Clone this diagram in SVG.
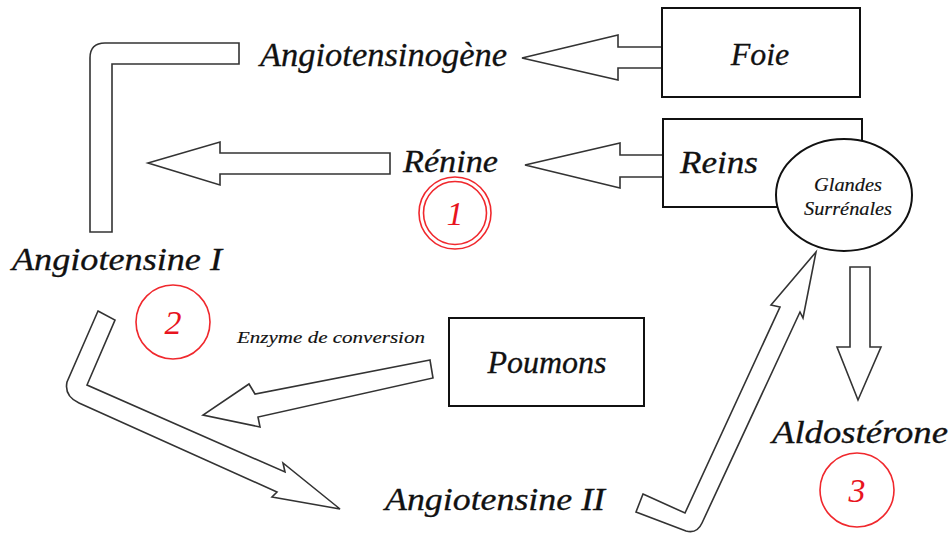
<svg xmlns="http://www.w3.org/2000/svg" width="952" height="533" viewBox="0 0 952 533">
<style>
.bg{fill:#fff}
.box{fill:#fff;stroke:#111;stroke-width:2}
.arr{fill:#fff;stroke:#333;stroke-width:1.6;stroke-linejoin:miter}
.lbl{font-family:"Liberation Serif","DejaVu Serif",serif;font-style:italic;fill:#111;stroke:#111;stroke-width:0.3}
.big{font-size:32px}
.num{font-family:"Liberation Serif","DejaVu Serif",serif;font-style:italic;font-size:34px;fill:#e8141e;text-anchor:middle}
.ring{fill:none;stroke:#f0282d;stroke-width:1.6}
</style>
<rect class="bg" x="0" y="0" width="952" height="533"/>
<g id="connectors">
<path class="arr" d="M239,43 L105,43 Q90,43 90,58 L90,232 L112,232 L112,64 L239,64 Z"/>
<path class="arr" d="M663,47 L618,47 L618,35 L522,58 L618,80 L618,68 L663,68"/>
<path class="arr" d="M390,153 L220,153 L220,142 L148,163 L220,185 L220,174 L390,174 Z"/>
<path class="arr" d="M663,155 L620,155 L620,143 L525,165 L620,188 L620,177 L663,177"/>
<path class="arr" d="M430,360 L255,394 L249,384 L203,415 L260,427 L258,417 L433,378 Z"/>
<path class="arr" d="M98,311 L115,320 L87,385 L285,472 L283,463 L340,509 L272,497 L277,492 L79,403 Q64,396 67,382 Z"/>
<path class="arr" d="M643,494 L685,513 L780,307 L771,305 L816,252 L803,318 L800,312 L702,523 Q697,534 686,531 L636,512 Z"/>
<path class="arr" d="M850,267 L870,267 L870,347 L881,347 L858,400 L837,347 L850,347 Z"/>
</g>
<g id="foie">
<rect class="box" x="662" y="8" width="198" height="89"/>
<text class="lbl big" x="760" y="65" text-anchor="middle">Foie</text>
</g>
<g id="angiotensinogene">
<text class="lbl" x="260" y="66" font-size="33" textLength="247" lengthAdjust="spacingAndGlyphs">Angiotensinogène</text>
</g>
<g id="reins">
<rect class="box" x="663" y="119" width="199" height="88"/>
<text class="lbl big" x="680" y="173" textLength="78" lengthAdjust="spacingAndGlyphs">Reins</text>
</g>
<g id="glandes">
<ellipse cx="844" cy="195" rx="68" ry="56" fill="#fff" stroke="#111" stroke-width="2"/>
<text class="lbl" x="814" y="191" font-size="19" textLength="68" lengthAdjust="spacingAndGlyphs" style="stroke-width:0.15">Glandes</text>
<text class="lbl" x="804" y="215" font-size="19" textLength="88" lengthAdjust="spacingAndGlyphs" style="stroke-width:0.15">Surrénales</text>
</g>
<g id="renine">
<text class="lbl big" x="403" y="172" textLength="95" lengthAdjust="spacingAndGlyphs">Rénine</text>
<circle class="ring" cx="455" cy="213" r="36"/>
<circle class="ring" cx="455" cy="213" r="31.5"/>
<text class="num" x="455" y="225">1</text>
</g>
<g id="angiotensine1">
<text class="lbl big" x="12" y="270" textLength="210" lengthAdjust="spacingAndGlyphs">Angiotensine I</text>
<circle class="ring" cx="173" cy="322" r="37"/>
<text class="num" x="173" y="334">2</text>
</g>
<g id="enzyme">
<text class="lbl" x="237" y="343" font-size="17" textLength="188" lengthAdjust="spacingAndGlyphs" style="stroke-width:0.15">Enzyme de conversion</text>
</g>
<g id="poumons">
<rect class="box" x="449" y="318" width="195" height="88"/>
<text class="lbl big" x="547" y="373" text-anchor="middle">Poumons</text>
</g>
<g id="angiotensine2">
<text class="lbl big" x="385" y="510" textLength="220" lengthAdjust="spacingAndGlyphs">Angiotensine II</text>
</g>
<g id="aldosterone">
<text class="lbl big" x="772" y="443" textLength="176" lengthAdjust="spacingAndGlyphs">Aldostérone</text>
<circle class="ring" cx="857" cy="490" r="37"/>
<text class="num" x="857" y="502">3</text>
</g>
</svg>
